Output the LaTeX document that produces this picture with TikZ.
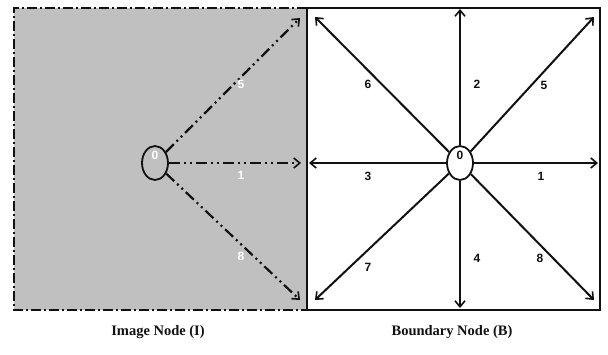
\documentclass[tikz,border=0pt]{standalone}
\usepackage{fontspec}
\setmainfont{Liberation Serif}
\setsansfont{Liberation Sans}
\usetikzlibrary{arrows.meta, positioning, calc, shapes.geometric}
\definecolor{imggray}{HTML}{C0C0C0}
\definecolor{inkblk}{HTML}{111111}

\tikzset{
  cellnode/.style={ellipse, draw=inkblk, line width=1.8pt, minimum width=26pt, minimum height=34pt, inner sep=0pt},
  dirnum/.style={font=\sffamily\bfseries\fontsize{12}{12}\selectfont, text=inkblk, inner sep=0pt},
  ghostnum/.style={dirnum, text=white},
  caption/.style={font=\rmfamily\bfseries\fontsize{14.5}{14.5}\selectfont, text=inkblk},
  ghostline/.style={line width=2.2pt, dash pattern=on 11pt off 4pt on 2pt off 4pt on 2pt off 4pt},
  solidline/.style={line width=2pt}
}

\begin{document}
\begin{tikzpicture}[x=1pt, y=-1pt, >={Straight Barb[length=6pt, width=10pt, line width=1.6pt]}, draw=inkblk]

\useasboundingbox (0,0) rectangle (608,354);

% =========== Image node region (left) ===========
\fill[imggray] (14,8) rectangle (307,310);
\draw[line width=2.2pt, dash pattern=on 10pt off 3pt on 2pt off 3pt]
  (307,8) -- (14,8) -- (14,310) -- (307,310);

% =========== Boundary node region (right) ===========
\draw[solidline] (307,8) rectangle (600,310);

% Nodes
\node[cellnode] (i0) at (155,163) {};
\node[cellnode] (b0) at (460,163) {};

% Arrow ends
\coordinate (iNE) at (300,18);
\coordinate (iE)  at (301,163);
\coordinate (iSE) at (300,300);

\coordinate (bE)  at (598,163);
\coordinate (bN)  at (460,9);
\coordinate (bW)  at (309,163);
\coordinate (bS)  at (460,308);
\coordinate (bNE) at (594,17);
\coordinate (bNW) at (315,17);
\coordinate (bSW) at (315,300);
\coordinate (bSE) at (594,300);

% Ghost directions through the image node
\draw[->, ghostline] (i0) -- (iNE);
\draw[->, ghostline] (i0) -- (iE);
\draw[->, ghostline] (i0) -- (iSE);

% Eight directions from the boundary node
\foreach \d in {bE, bN, bW, bS, bNE, bNW, bSW, bSE} {
  \draw[->, solidline] (b0) -- (\d);
}

% Labels (left)
\node[ghostnum] at (155,155) {0};
\node[ghostnum] at (241,84)  {5};
\node[ghostnum] at (241,175) {1};
\node[ghostnum] at (241,256) {8};

% Labels (right)
\node[dirnum] at (460,155) {0};
\node[dirnum] at (541,176) {1};
\node[dirnum] at (477,84)  {2};
\node[dirnum] at (368,176) {3};
\node[dirnum] at (477,258) {4};
\node[dirnum] at (544,85)  {5};
\node[dirnum] at (368,84)  {6};
\node[dirnum] at (368,267) {7};
\node[dirnum] at (540,258) {8};

% Captions
\node[caption] at (158,332) {Image Node (I)};
\node[caption] at (452,332) {Boundary Node (B)};

\end{tikzpicture}
\end{document}
